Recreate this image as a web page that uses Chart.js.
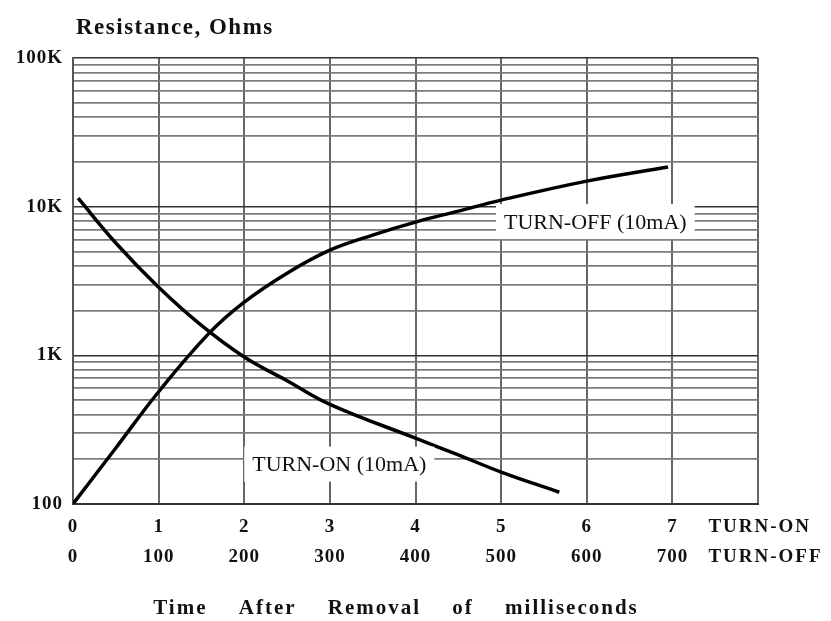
<!DOCTYPE html>
<html>
<head>
<meta charset="utf-8">
<script src="https://cdn.jsdelivr.net/npm/chart.js@4/dist/chart.umd.min.js"></script>
<style>
    html, body { margin: 0; padding: 0; background: #fff; }
    #wrap { width: 831px; height: 621px; }
</style>
</head>
<body>
<div id="wrap"><canvas id="chart" width="831" height="621"></canvas></div>
<script>
/* ---------- Data ---------- */
// x in TURN-ON units (1 = 100 ms on the TURN-OFF scale)
const turnOnX = [0.06, 0.5, 1, 1.5, 2, 2.5, 3, 4, 4.5, 5, 5.68];
const turnOnY = [11400, 5700, 2870, 1590, 975, 675, 468, 277, 214, 164, 120];

const turnOffX = [0, 0.5, 1, 1.59, 2, 2.5, 3, 3.5, 4, 4.5, 5, 6, 6.95];
const turnOffY = [100, 238, 569, 1410, 2280, 3570, 5100, 6440, 7870, 9340, 11070, 14860, 18500];

const xTicksOn = [0, 1, 2, 3, 4, 5, 6, 7];
const xTicksOff = [0, 100, 200, 300, 400, 500, 600, 700];
const yLabels = { 100: '100', 1000: '1K', 10000: '10K', 100000: '100K' };

// annotation boxes, anchored at data coordinates (centre of the box)
const notes = [
    { text: 'TURN-OFF (10mA)', x: 6.1, y: 8000 },
    { text: 'TURN-ON (10mA)', x: 3.11, y: 187 }
];

const SERIF = '"Liberation Serif", "DejaVu Serif", serif';

function pts(xs, ys) {
    return xs.map((x, i) => ({ x: x, y: ys[i] }));
}

/* ---------- Extra drawing ---------- */
const extrasPlugin = {
    id: 'extras',
    beforeDraw(chart) {
        chart.ctx.letterSpacing = '1px';
    },
    afterDatasetsDraw(chart) {
        const ctx = chart.ctx;
        const xs = chart.scales.x, ys = chart.scales.y;
        ctx.save();
        ctx.letterSpacing = '0px';
        ctx.font = '22px ' + SERIF;
        ctx.textBaseline = 'middle';
        ctx.textAlign = 'center';
        notes.forEach(n => {
            const cx = xs.getPixelForValue(n.x);
            const cy = ys.getPixelForValue(n.y);
            const w = ctx.measureText(n.text).width;
            ctx.fillStyle = '#fff';
            ctx.fillRect(cx - w / 2 - 8, cy - 17, w + 16, 35);
            ctx.fillStyle = '#111';
            ctx.fillText(n.text, cx, cy + 2);
        });
        ctx.restore();
    },
    afterDraw(chart) {
        const ctx = chart.ctx;
        const xs = chart.scales.x;
        const area = chart.chartArea;
        ctx.save();
        ctx.fillStyle = '#111';
        ctx.textBaseline = 'middle';

        // y axis title
        ctx.font = 'bold 23px ' + SERIF;
        ctx.letterSpacing = '1.5px';
        ctx.textAlign = 'left';
        ctx.fillText('Resistance, Ohms', area.left + 3, 28);

        // series names at the right end of the tick rows
        ctx.font = 'bold 19px ' + SERIF;
        ctx.letterSpacing = '2px';
        const lx = xs.getPixelForValue(7) + 36;
        ctx.fillText('TURN-ON', lx, area.bottom + 23);
        ctx.fillText('TURN-OFF', lx, area.bottom + 53);

        // x axis title
        ctx.font = 'bold 21px ' + SERIF;
        ctx.letterSpacing = '2px';
        ctx.wordSpacing = '24px';
        ctx.textAlign = 'center';
        ctx.fillText('Time After Removal of milliseconds', 396, area.bottom + 105);
        ctx.restore();
    }
};

/* ---------- Chart ---------- */
new Chart(document.getElementById('chart'), {
    type: 'scatter',
    data: {
        datasets: [
            {
                label: 'TURN-ON (10mA)',
                data: pts(turnOnX, turnOnY),
                showLine: true,
                borderColor: '#000',
                borderWidth: 3.5,
                pointRadius: 0,
                tension: 0.4
            },
            {
                label: 'TURN-OFF (10mA)',
                data: pts(turnOffX, turnOffY),
                showLine: true,
                borderColor: '#000',
                borderWidth: 3.5,
                pointRadius: 0,
                tension: 0.4
            }
        ]
    },
    options: {
        responsive: false,
        animation: false,
        layout: { padding: { left: 0, right: 73, top: 58, bottom: 0 } },
        plugins: {
            legend: { display: false },
            tooltip: { enabled: false }
        },
        scales: {
            x: {
                type: 'linear',
                min: 0,
                max: 8,
                afterFit: s => { s.height = 117; },
                border: { color: '#333', width: 2 },
                grid: {
                    drawTicks: false,
                    color: '#666',
                    lineWidth: 2
                },
                ticks: {
                    stepSize: 1,
                    padding: 8,
                    color: '#111',
                    font: { family: SERIF, size: 19, weight: 'bold', lineHeight: 1.58 },
                    callback: v => {
                        const i = xTicksOn.indexOf(v);
                        return i < 0 ? '' : [String(xTicksOn[i]), String(xTicksOff[i])];
                    }
                }
            },
            y: {
                type: 'logarithmic',
                min: 100,
                max: 100000,
                afterFit: s => { s.width = 73; },
                afterBuildTicks: s => {
                    const t = [];
                    for (let d = 100; d < 100000; d *= 10) {
                        for (let m = 1; m < 10; m++) t.push({ value: d * m });
                    }
                    t.push({ value: 100000 });
                    s.ticks = t;
                },
                border: { color: '#555', width: 2 },
                grid: {
                    drawTicks: false,
                    color: c => yLabels[c.tick.value] ? '#333' : '#7c7c7c',
                    lineWidth: c => yLabels[c.tick.value] ? 1.5 : 1.8
                },
                ticks: {
                    autoSkip: false,
                    padding: 10,
                    color: '#111',
                    font: { family: SERIF, size: 19, weight: 'bold' },
                    callback: v => yLabels[v] || ''
                }
            }
        }
    },
    plugins: [extrasPlugin]
});
</script>
</body>
</html>
